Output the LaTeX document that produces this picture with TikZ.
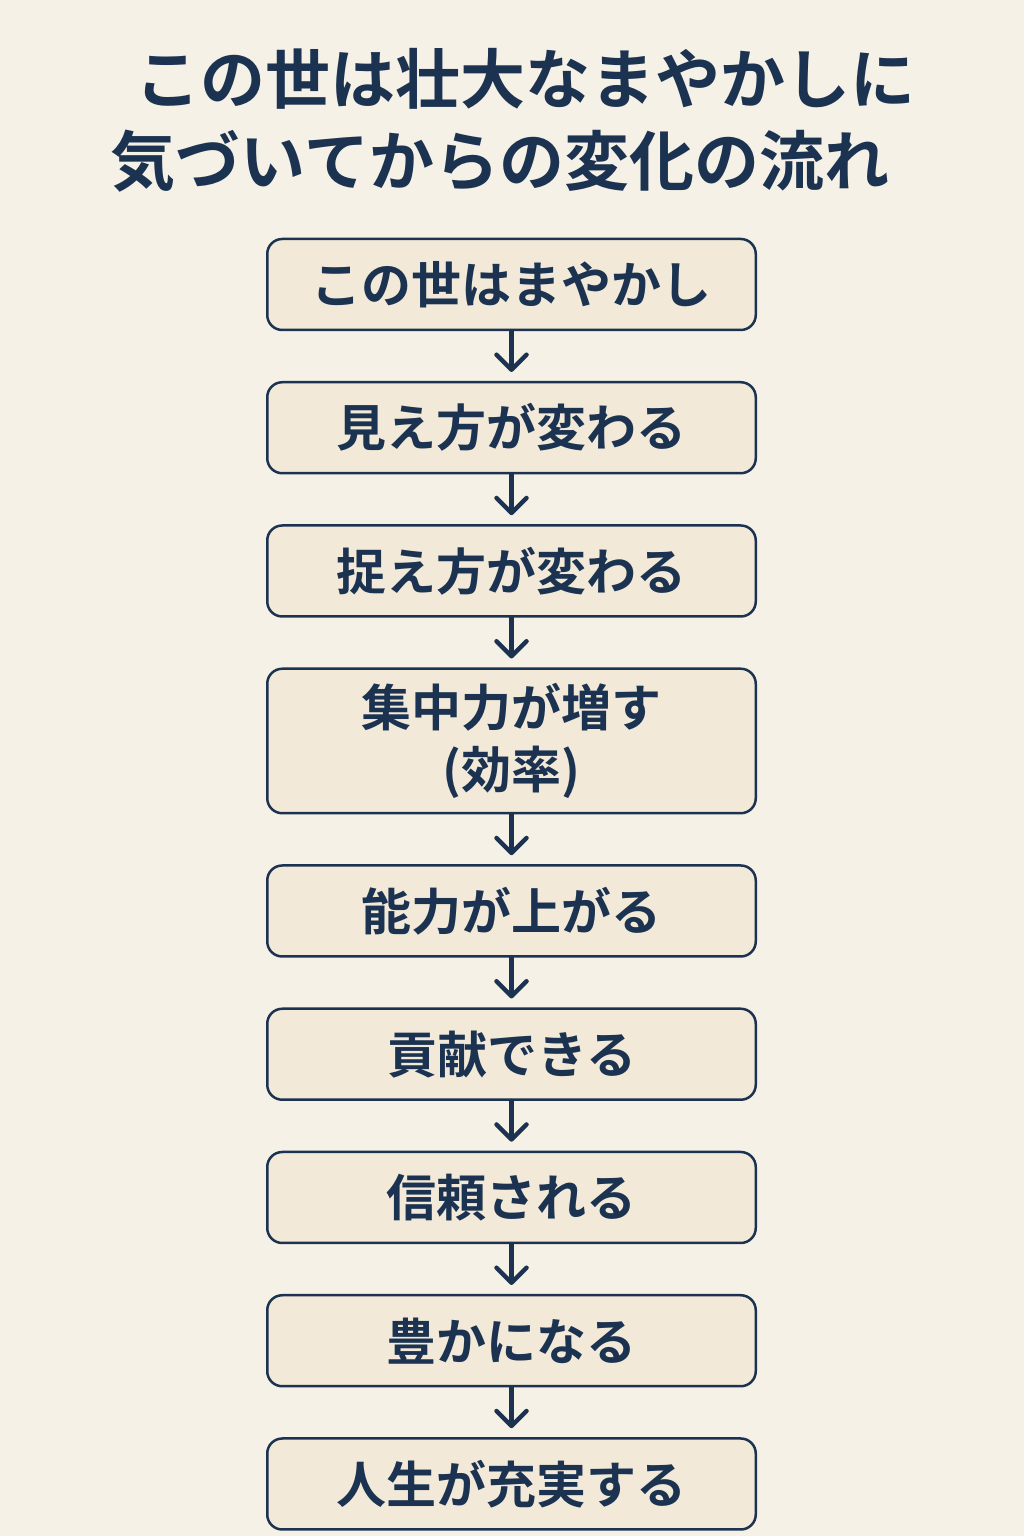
\documentclass[tikz,border=0pt]{standalone}
\usepackage{fontspec}
\usepackage{tikz}
\usetikzlibrary{arrows.meta, positioning}
\newfontfamily\jpfont{Noto Sans CJK JP}[BoldFont={Noto Sans CJK JP Bold}]
\definecolor{bgcream}{RGB}{246, 241, 231}
\definecolor{boxcream}{RGB}{243, 233, 216}
\definecolor{inknavy}{RGB}{27, 51, 80}

\begin{document}
\begin{tikzpicture}[x=1pt, y=1pt, node distance=49.75pt,
    flowbox/.style={draw=inknavy, line width=2.5pt, fill=boxcream, rounded corners=15pt,
        minimum width=488.5pt, minimum height=91pt, inner sep=0pt, align=center,
        text=inknavy, font=\jpfont\bfseries\fontsize{50}{62}\selectfont},
    flowarrow/.style={draw=inknavy, line width=4.5pt, line cap=round,
        -{Straight Barb[length=15pt, width=30pt, round]}, shorten >=9pt}]
    \useasboundingbox (0,0) rectangle (1024,1536);
    \fill[bgcream] (0,0) rectangle (1024,1536);

    % Title
    \node[text=inknavy, font=\jpfont\bfseries\fontsize{65}{80}\selectfont] (title1) at (525,1457) {この世は壮大なまやかしに};
    \node[text=inknavy, font=\jpfont\bfseries\fontsize{65}{80}\selectfont] (title2) at (500,1375) {気づいてからの変化の流れ};

    % Steps
    \node[flowbox] (illusion) at (511.5,1251.5) {この世はまやかし};
    \node[flowbox, below=of illusion] (seeing) {見え方が変わる};
    \node[flowbox, below=of seeing] (grasping) {捉え方が変わる};
    \node[flowbox, below=of grasping, minimum height=144.5pt] (focus) {集中力が増す\\(効率)};
    \node[flowbox, below=of focus] (ability) {能力が上がる};
    \node[flowbox, below=of ability] (contrib) {貢献できる};
    \node[flowbox, below=of contrib] (trust) {信頼される};
    \node[flowbox, below=of trust] (wealth) {豊かになる};
    \node[flowbox, below=of wealth] (fulfil) {人生が充実する};

    % Arrows
    \draw[flowarrow] (illusion) -- (seeing);
    \draw[flowarrow] (seeing) -- (grasping);
    \draw[flowarrow] (grasping) -- (focus);
    \draw[flowarrow] (focus) -- (ability);
    \draw[flowarrow] (ability) -- (contrib);
    \draw[flowarrow] (contrib) -- (trust);
    \draw[flowarrow] (trust) -- (wealth);
    \draw[flowarrow] (wealth) -- (fulfil);
\end{tikzpicture}
\end{document}
